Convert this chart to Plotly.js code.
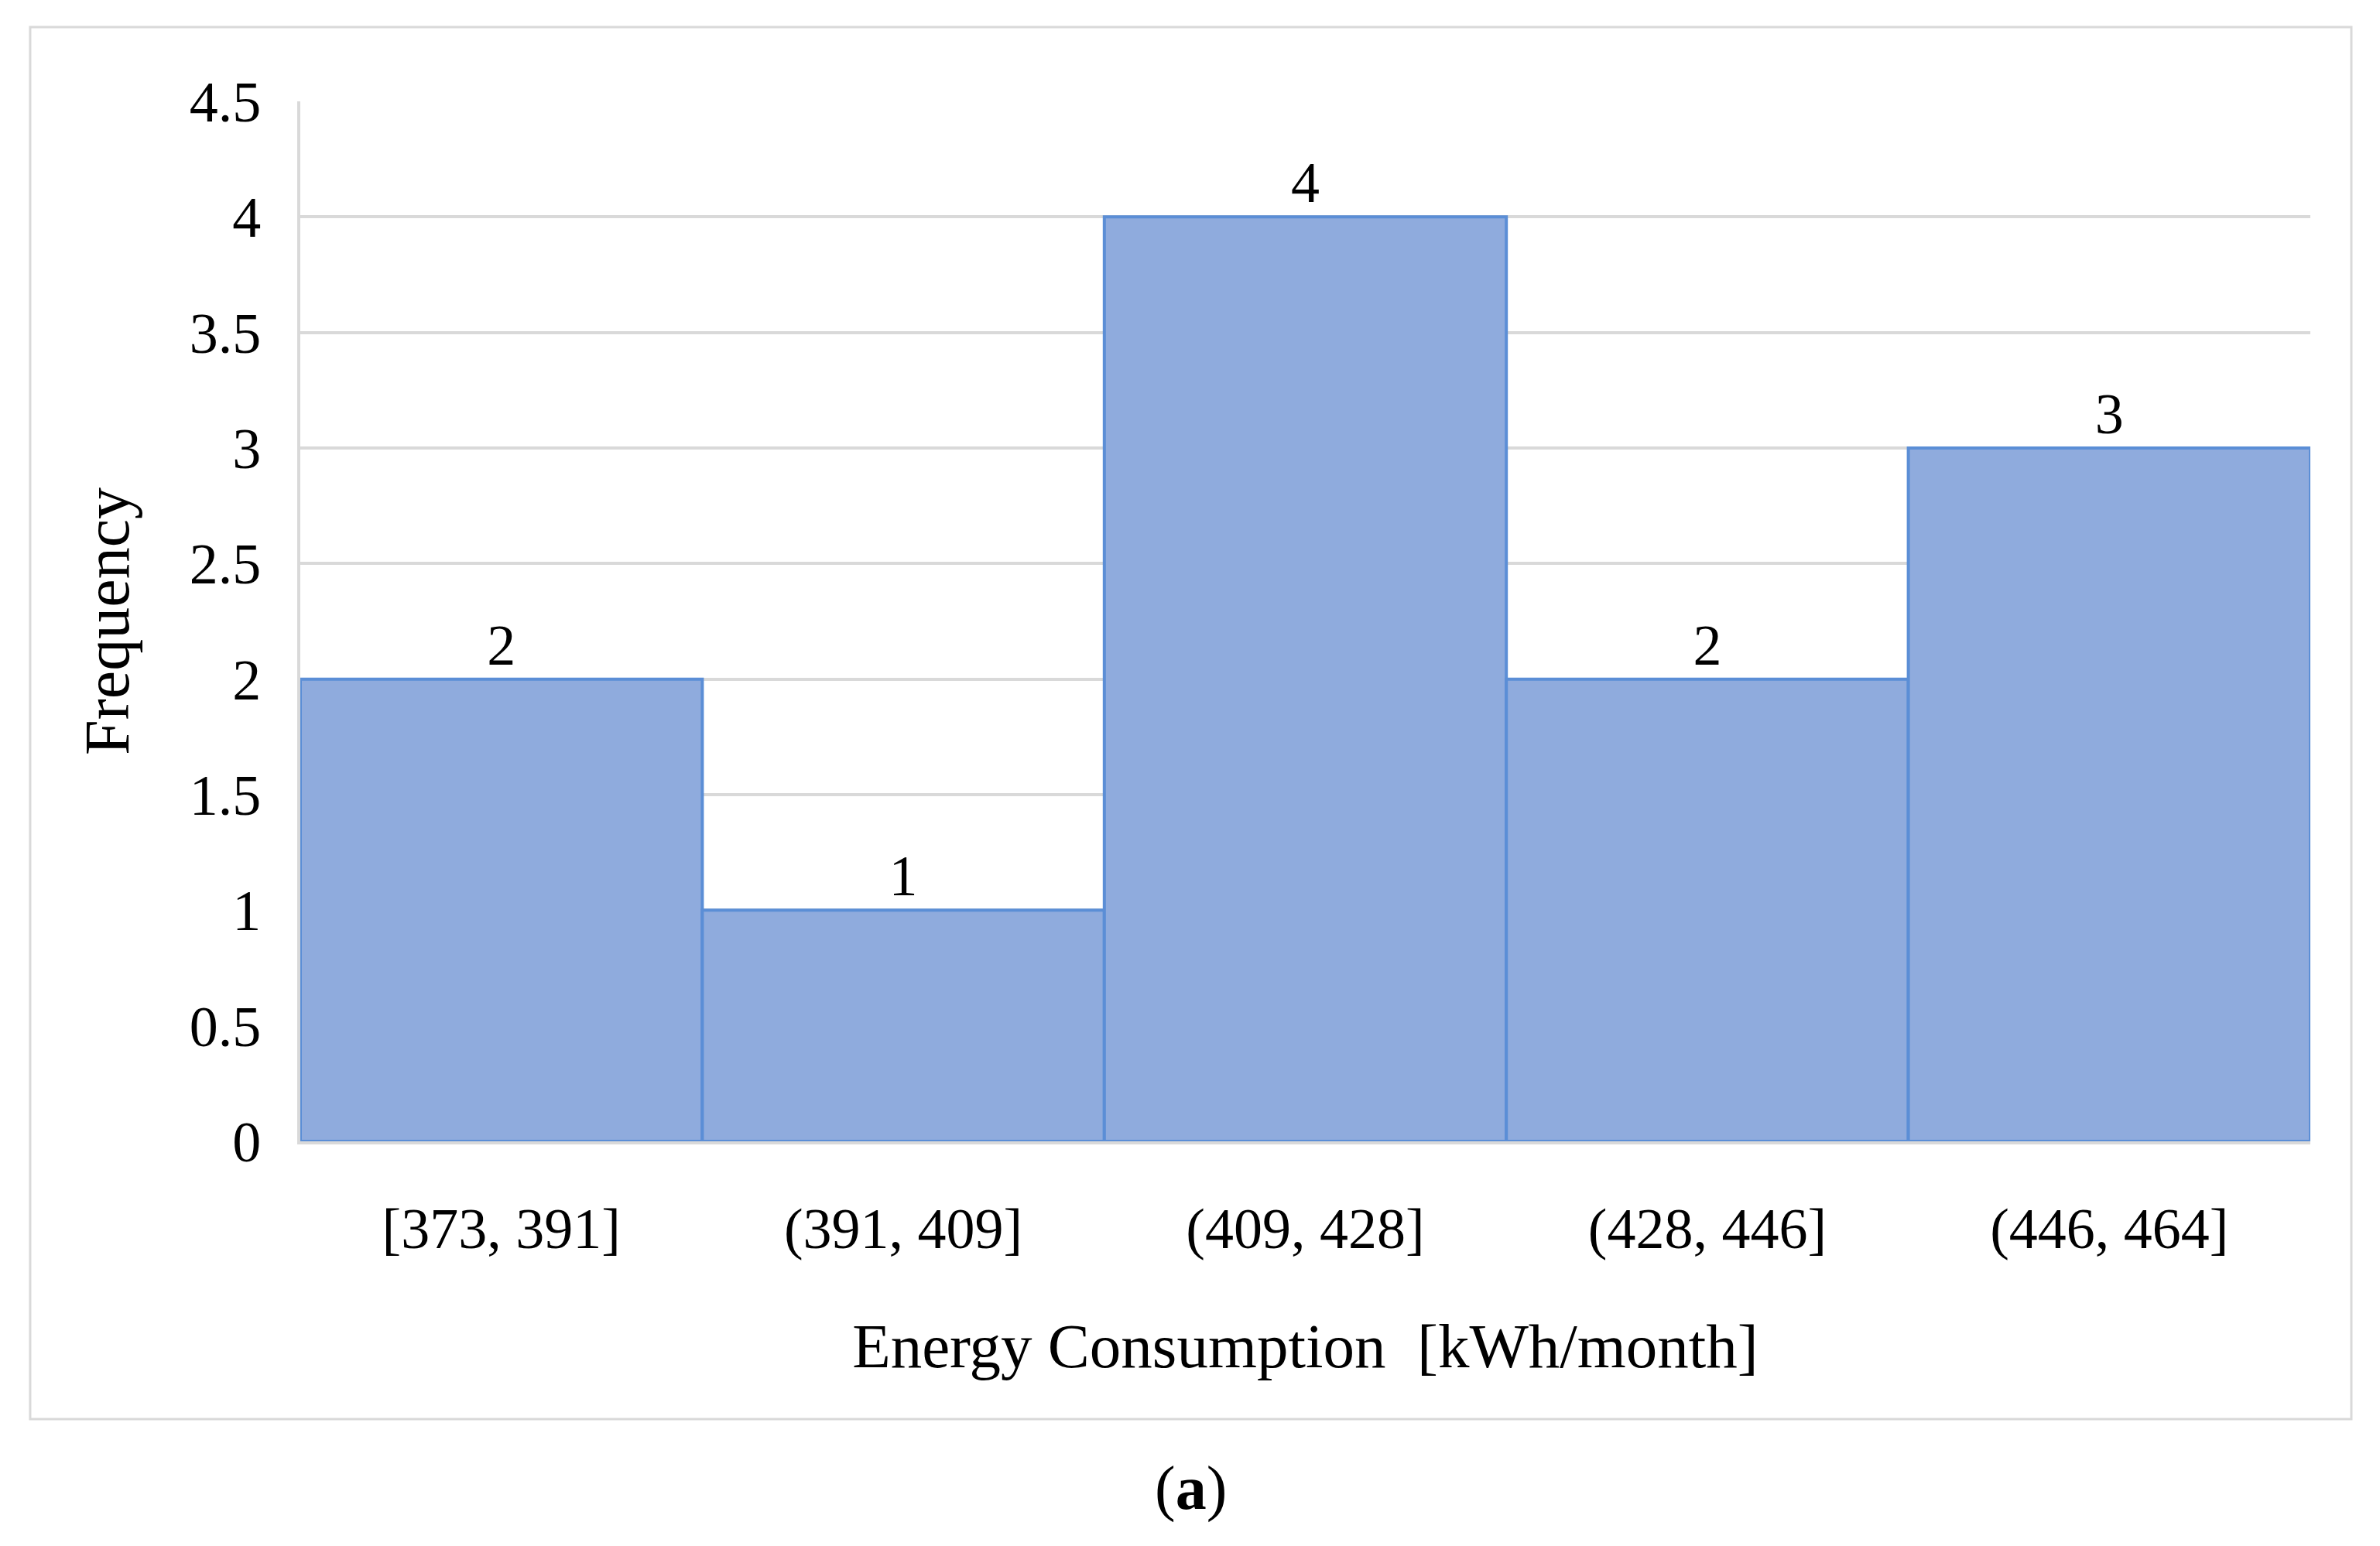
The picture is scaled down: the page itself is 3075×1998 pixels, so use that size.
<!DOCTYPE html>
<html>
<head>
<meta charset="utf-8">
<script src="https://cdn.plot.ly/plotly-3.0.1.min.js"></script>
<style>
  html, body { margin: 0; padding: 0; background: #ffffff; }
  #chart { width: 3075px; height: 1998px; }
</style>
</head>
<body>
<div id="chart"></div>
<script>
// Data
const categories = ['[373, 391]', '(391, 409]', '(409, 428]', '(428, 446]', '(446, 464]'];
const frequency = [2, 1, 4, 2, 3];
const yTickValues = [0, 0.5, 1, 1.5, 2, 2.5, 3, 3.5, 4, 4.5];
const yTickLabels = ['0', '0.5', '1', '1.5', '2', '2.5', '3', '3.5', '4', '4.5'];

const FONT = 'Liberation Serif, Times New Roman, serif';

const trace = {
  type: 'bar',
  x: categories,
  y: frequency,
  text: frequency.map(String),
  textposition: 'outside',
  cliponaxis: false,
  textfont: { family: FONT, size: 74, color: '#000000' },
  marker: {
    color: '#8fabdd',
    line: { color: '#5b8ed6', width: 4 }
  },
  hoverinfo: 'none'
};

const layout = {
  width: 3075,
  height: 1998,
  paper_bgcolor: '#ffffff',
  plot_bgcolor: '#ffffff',
  margin: { l: 388, r: 90, t: 131, b: 523 },
  bargap: 0,
  showlegend: false,
  font: { family: FONT, size: 74, color: '#000000' },
  xaxis: {
    type: 'category',
    range: [-0.5, 4.5],
    showgrid: false,
    showline: true,
    linecolor: '#d9d9d9',
    linewidth: 4,
    ticks: '',
    ticklabelstandoff: 45,
    tickfont: { family: FONT, size: 74, color: '#000000' },
    title: {
      text: 'Energy Consumption  [kWh/month]',
      font: { family: FONT, size: 81, color: '#000000' },
      standoff: 84
    },
    automargin: false,
    zeroline: false
  },
  yaxis: {
    range: [0, 4.5],
    tickmode: 'array',
    tickvals: yTickValues,
    ticktext: yTickLabels,
    showgrid: true,
    gridcolor: '#d9d9d9',
    gridwidth: 4,
    showline: true,
    linecolor: '#d9d9d9',
    linewidth: 4,
    ticks: '',
    ticklabelstandoff: 32,
    tickfont: { family: FONT, size: 74, color: '#000000' },
    title: {
      text: 'Frequency',
      font: { family: FONT, size: 82, color: '#000000' },
      standoff: 52
    },
    automargin: false,
    zeroline: false
  },
  shapes: [
    {
      type: 'rect', xref: 'paper', yref: 'paper',
      x0: -0.1344, x1: 1.0204, y0: -0.2671, y1: 1.0714,
      line: { color: '#d9d9d9', width: 3 },
      fillcolor: 'rgba(0,0,0,0)',
      layer: 'below'
    }
  ],
  annotations: [
    {
      xref: 'paper', yref: 'paper',
      x: 0.4432, y: -0.334,
      xanchor: 'center', yanchor: 'middle',
      text: '(<b>a</b>)',
      showarrow: false,
      font: { family: FONT, size: 80, color: '#000000' }
    }
  ]
};

Plotly.newPlot('chart', [trace], layout, { staticPlot: true, displayModeBar: false });
</script>
</body>
</html>
